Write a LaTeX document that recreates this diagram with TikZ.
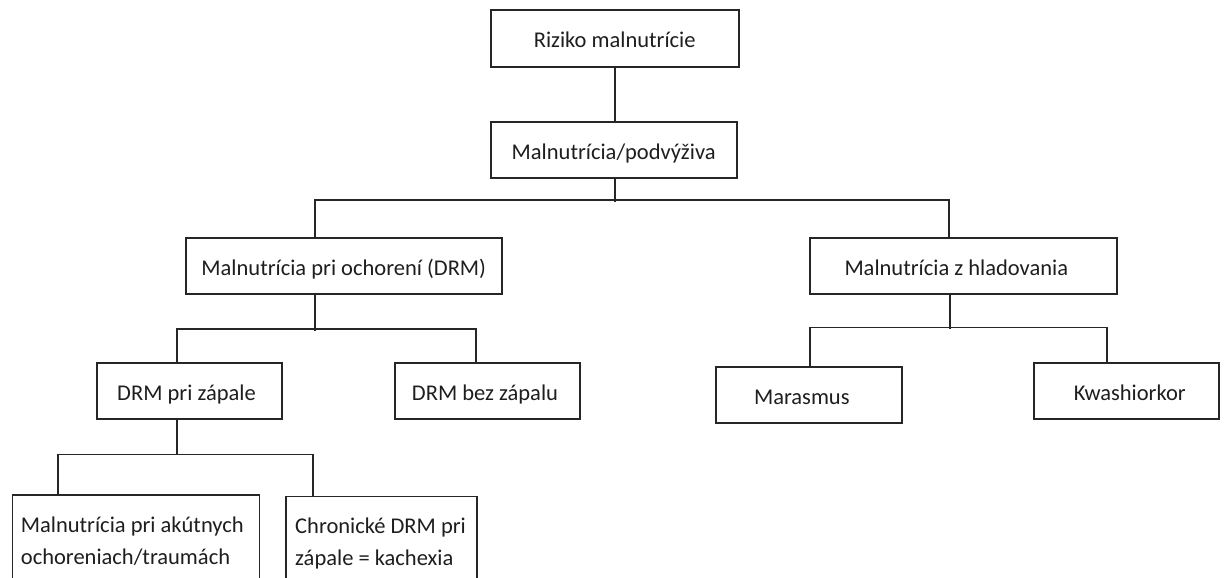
\documentclass[tikz,border=0pt]{standalone}
\usepackage{fontspec}
\setmainfont{Carlito}
\begin{document}
\begin{tikzpicture}[x=1pt,y=-1pt,
  box/.style={draw=linegray, line width=1.7pt, rectangle, inner sep=0pt,
    font=\fontsize{22.5}{32}\selectfont, text=textgray,
    text height=18pt, text depth=0pt},
  textnudge/.style={execute at begin node={\kern#1}},
  longtext/.style={inner sep=0pt, align=left, text=textgray,
    font=\fontsize{22.5}{32}\selectfont},
  wire/.style={draw=linegray, line width=1.7pt}]
\definecolor{linegray}{HTML}{262626}
\definecolor{textgray}{HTML}{1E1E1E}
\useasboundingbox (0,0) rectangle (1224,578);
\clip (0,0) rectangle (1224,578);

% top of the tree
\node[box, minimum width=248pt, minimum height=57pt] (risk) at (614.7,38.8) {Riziko malnutrície};
\node[box, minimum width=246pt, minimum height=56.6pt] (mal) at (613.7,150) {Malnutrícia/podvýživa};

% second level
\node[box, minimum width=315.7pt, minimum height=56pt] (drm) at (343.8,266.3) {Malnutrícia pri ochorení (DRM)};
\node[box, minimum width=306.7pt, minimum height=56pt, textnudge=-14pt] (starv) at (963.3,266.3) {Malnutrícia z hladovania};

% third level
\node[box, minimum width=184.4pt, minimum height=56pt, textnudge=-6pt] (infl) at (189.5,391.3) {DRM pri zápale};
\node[box, minimum width=185pt, minimum height=56pt, textnudge=-5pt] (noinfl) at (487.5,391.3) {DRM bez zápalu};
\node[box, minimum width=185.7pt, minimum height=56.6pt, textnudge=-14pt] (maras) at (808.8,395) {Marasmus};
\node[box, minimum width=185pt, minimum height=56.6pt, textnudge=6pt] (kwash) at (1126.8,391) {Kwashiorkor};

% fourth level, running past the lower edge
\node[box, minimum width=246.8pt, minimum height=120pt, anchor=north west] (acute) at (11.7,494) {};
\node[box, minimum width=191pt, minimum height=120pt, anchor=north west] (chronic) at (285,495.7) {};
% the base anchor of a two-line node sits on its last line
\node[longtext, anchor=base west] (acutetxt) at (20.7,564) {Malnutrícia pri akútnych\\ochoreniach/traumách};
\node[longtext, anchor=base west] (chronictxt) at (295,565.5) {Chronické DRM pri\\zápale = kachexia};

% connectors
\draw[wire] (risk.south) -- (risk.south |- mal.north);
\draw[wire] ([xshift=1pt]mal.south) -- ++(0,22.7);
\draw[wire] ([xshift=-28.5pt]drm.north) -- ++(0,-37.3) -| ([xshift=-14pt]starv.north);

\draw[wire] ([xshift=-28.5pt]drm.south) -- ++(0,35.7);
\draw[wire] ([xshift=-12.8pt]infl.north) -- ++(0,-33.3) -| ([xshift=-11.5pt]noinfl.north);

\draw[wire] ([xshift=-13.3pt]starv.south) -- ++(0,34);
\draw[wire] ([xshift=1.2pt]maras.north) -- ++(0,-38.4) -| ([xshift=-19.5pt]kwash.north);

\draw[wire] ([xshift=-12.8pt]infl.south) -- ++(0,35.2);
\draw[wire] ([xshift=-77.8pt]acute.north) -- ++(0,-39.5) -| ([xshift=-68.2pt]chronic.north);
\end{tikzpicture}
\end{document}
